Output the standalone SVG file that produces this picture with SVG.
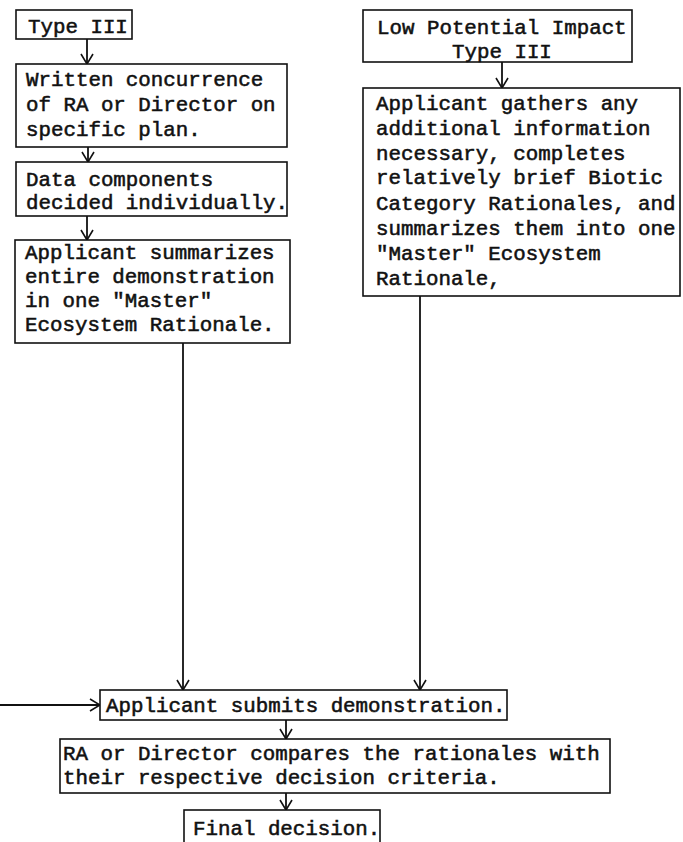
<svg xmlns="http://www.w3.org/2000/svg" width="683" height="842" viewBox="0 0 683 842">
<style>
  .box { fill: #ffffff; stroke: #111111; stroke-width: 1.6; }
  .t { font-family: "Liberation Mono", "Courier New", monospace; font-size: 20.8px; fill: #111111; stroke: #111111; stroke-width: 0.55; }
  .c { stroke: #111111; stroke-width: 1.8; fill: none; marker-end: url(#ah); }
</style>
<defs>
  <marker id="ah" viewBox="0 0 12 14" refX="11" refY="7" markerWidth="12" markerHeight="14" markerUnits="userSpaceOnUse" orient="auto">
    <path d="M1,1 L11,7 L1,13" fill="none" stroke="#111111" stroke-width="1.6"/>
  </marker>
</defs>
<rect width="683" height="842" fill="#ffffff"/>

<g id="connectors">
  <line class="c" x1="87" y1="39" x2="87" y2="64"/>
  <line class="c" x1="88" y1="147" x2="88" y2="162"/>
  <line class="c" x1="87" y1="216" x2="87" y2="240"/>
  <line class="c" x1="183" y1="343" x2="183" y2="690"/>
  <line class="c" x1="502" y1="62" x2="502" y2="88"/>
  <line class="c" x1="420" y1="296" x2="420" y2="690"/>
  <line class="c" x1="0" y1="705" x2="100" y2="705"/>
  <line class="c" x1="286" y1="720" x2="286" y2="739"/>
  <line class="c" x1="286" y1="793" x2="286" y2="810"/>
</g>

<g id="type3">
  <rect class="box" x="16" y="10" width="116" height="29"/>
  <text class="t" x="28" y="33">Type III</text>
</g>

<g id="written">
  <rect class="box" x="16" y="64" width="271" height="83"/>
  <text class="t" x="26" y="86">Written concurrence</text>
  <text class="t" x="26" y="111">of RA or Director on</text>
  <text class="t" x="26" y="136">specific plan.</text>
</g>

<g id="data">
  <rect class="box" x="16" y="162" width="271" height="54"/>
  <text class="t" x="26" y="186">Data components</text>
  <text class="t" x="26" y="209">decided individually.</text>
</g>

<g id="summarizes">
  <rect class="box" x="15" y="240" width="275" height="103"/>
  <text class="t" x="25" y="259">Applicant summarizes</text>
  <text class="t" x="25" y="283">entire demonstration</text>
  <text class="t" x="25" y="307">in one "Master"</text>
  <text class="t" x="25" y="331">Ecosystem Rationale.</text>
</g>

<g id="lowimpact">
  <rect class="box" x="363" y="10" width="269" height="52"/>
  <text class="t" x="377" y="34">Low Potential Impact</text>
  <text class="t" x="452" y="58">Type III</text>
</g>

<g id="gathers">
  <rect class="box" x="363" y="88" width="317" height="208"/>
  <text class="t" x="376" y="110">Applicant gathers any</text>
  <text class="t" x="376" y="135">additional information</text>
  <text class="t" x="376" y="160">necessary, completes</text>
  <text class="t" x="376" y="184">relatively brief Biotic</text>
  <text class="t" x="376" y="210">Category Rationales, and</text>
  <text class="t" x="376" y="235">summarizes them into one</text>
  <text class="t" x="376" y="260">"Master" Ecosystem</text>
  <text class="t" x="376" y="285">Rationale,</text>
</g>

<g id="submits">
  <rect class="box" x="100" y="690" width="407" height="30"/>
  <text class="t" x="106" y="712">Applicant submits demonstration.</text>
</g>

<g id="compares">
  <rect class="box" x="60" y="739" width="550" height="54"/>
  <text class="t" x="63" y="760">RA or Director compares the rationales with</text>
  <text class="t" x="63" y="784">their respective decision criteria.</text>
</g>

<g id="final">
  <rect class="box" x="184" y="810" width="196" height="40"/>
  <text class="t" x="193" y="835">Final decision.</text>
</g>
</svg>
